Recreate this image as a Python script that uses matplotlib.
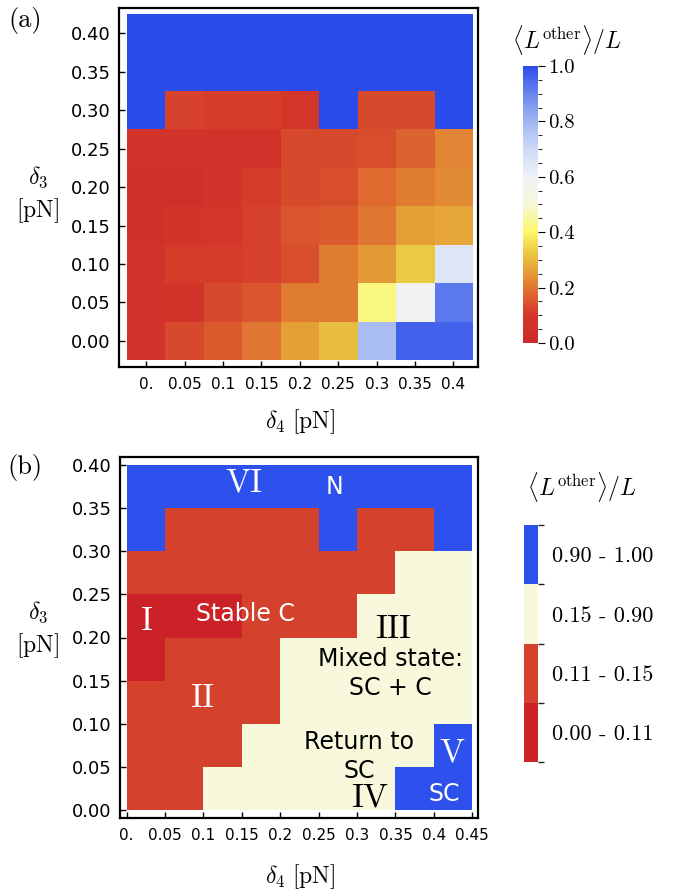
import matplotlib
matplotlib.use("Agg")
import matplotlib.pyplot as plt
import numpy as np
from matplotlib.colors import LinearSegmentedColormap, ListedColormap, BoundaryNorm, Normalize
from matplotlib.colorbar import ColorbarBase

plt.rcParams["mathtext.fontset"] = "cm"
plt.rcParams["font.family"] = ["DejaVu Sans"]

# ---- data -----------------------------------------------------------------
# panel (a): <L_other>/L on a 9x9 grid (rows: delta3 = 0.00 .. 0.40)
delta4_a = [0.0, 0.05, 0.1, 0.15, 0.2, 0.25, 0.3, 0.35, 0.4]
delta3_a = [0.0, 0.05, 0.1, 0.15, 0.2, 0.25, 0.3, 0.35, 0.4]
xtick_labels_a = ["0.", "0.05", "0.1", "0.15", "0.2", "0.25", "0.3", "0.35", "0.4"]
lother_a = [
    [0.08, 0.13, 0.16, 0.20, 0.26, 0.31, 0.78, 0.96, 0.96],   # 0.00
    [0.08, 0.09, 0.13, 0.15, 0.21, 0.21, 0.42, 0.58, 0.92],   # 0.05
    [0.08, 0.11, 0.11, 0.12, 0.14, 0.21, 0.25, 0.33, 0.65],   # 0.10
    [0.06, 0.09, 0.10, 0.12, 0.15, 0.16, 0.20, 0.26, 0.27],   # 0.15
    [0.06, 0.05, 0.08, 0.11, 0.13, 0.14, 0.18, 0.21, 0.23],   # 0.20
    [0.08, 0.08, 0.07, 0.07, 0.13, 0.13, 0.14, 0.17, 0.22],   # 0.25
    [1.00, 0.12, 0.11, 0.11, 0.10, 1.00, 0.13, 0.13, 1.00],   # 0.30
    [1.00, 1.00, 1.00, 1.00, 1.00, 1.00, 1.00, 1.00, 1.00],   # 0.35
    [1.00, 1.00, 1.00, 1.00, 1.00, 1.00, 1.00, 1.00, 1.00],   # 0.40
]

# panel (b): classified regions, cell edges
delta4_edges_b = [0.0, 0.05, 0.1, 0.15, 0.2, 0.25, 0.3, 0.35, 0.4, 0.45]
delta3_edges_b = [0.0, 0.05, 0.1, 0.15, 0.2, 0.25, 0.3, 0.35, 0.4]
xtick_labels_b = ["0.", "0.05", "0.1", "0.15", "0.2", "0.25", "0.3", "0.35", "0.4", "0.45"]
ytick_vals = [0.0, 0.05, 0.1, 0.15, 0.2, 0.25, 0.3, 0.35, 0.4]
ytick_labels = ["0.00", "0.05", "0.10", "0.15", "0.20", "0.25", "0.30", "0.35", "0.40"]
# 0: 0.00-0.11, 1: 0.11-0.15, 2: 0.15-0.90, 3: 0.90-1.00
regions_b = [
    [1, 1, 2, 2, 2, 2, 2, 3, 3],   # 0.00-0.05
    [1, 1, 1, 2, 2, 2, 2, 2, 3],   # 0.05-0.10
    [1, 1, 1, 1, 2, 2, 2, 2, 2],   # 0.10-0.15
    [0, 1, 1, 1, 2, 2, 2, 2, 2],   # 0.15-0.20
    [0, 0, 0, 1, 1, 1, 2, 2, 2],   # 0.20-0.25
    [1, 1, 1, 1, 1, 1, 1, 2, 2],   # 0.25-0.30
    [3, 1, 1, 1, 1, 3, 1, 1, 3],   # 0.30-0.35
    [3, 3, 3, 3, 3, 3, 3, 3, 3],   # 0.35-0.40
]
region_labels = ["0.00 - 0.11", "0.11 - 0.15", "0.15 - 0.90", "0.90 - 1.00"]
region_colors = ["#cd2128", "#d4422e", "#f8f9dc", "#2e50ec"]

# ---- styling --------------------------------------------------------------
cmap_a = LinearSegmentedColormap.from_list("temp", [
    (0.00, "#cf2a2a"), (0.10, "#d4362a"), (0.18, "#de6a30"),
    (0.26, "#e5a038"), (0.33, "#eccb44"), (0.40, "#fbf76a"),
    (0.50, "#f7f7d8"), (0.60, "#eef2f8"), (0.70, "#cfdaf6"),
    (0.80, "#a2b6f2"), (0.90, "#6a86ee"), (1.00, "#2b4cea")])
W, H = 675, 892
serif = "cmr10"


def px_axes(fig, l, t, r, b):
    return fig.add_axes([l / W, 1 - b / H, (r - l) / W, (b - t) / H])


def style_frame(ax):
    for s in ax.spines.values():
        s.set_linewidth(1.6)
    ax.tick_params(direction="in", length=4, width=1.0, top=False, right=False)
    ax.tick_params(axis="x", labelsize=11, pad=7)
    ax.tick_params(axis="y", labelsize=13, pad=6)


fig = plt.figure(figsize=(W / 100, H / 100), dpi=100)

# ---- panel (a) ------------------------------------------------------------
ax = px_axes(fig, 119, 8, 478, 367)
ax.imshow(np.array(lother_a), origin="lower", cmap=cmap_a, vmin=0, vmax=1,
          extent=(delta4_a[0] - 0.025, delta4_a[-1] + 0.025,
                  delta3_a[0] - 0.025, delta3_a[-1] + 0.025),
          aspect="auto", interpolation="nearest")
ax.set_xlim(-0.0355, 0.432)
ax.set_ylim(-0.034, 0.433)
ax.set_xticks(delta4_a, xtick_labels_a)
ax.set_yticks(ytick_vals, ytick_labels)
style_frame(ax)

cax = px_axes(fig, 523, 66, 538, 343)
cb = ColorbarBase(cax, cmap=cmap_a, norm=Normalize(0, 1))
cb.outline.set_visible(False)
cb.set_ticks([0, 0.2, 0.4, 0.6, 0.8, 1.0])
cb.set_ticklabels(["0.0", "0.2", "0.4", "0.6", "0.8", "1.0"])
cax.yaxis.set_minor_locator(matplotlib.ticker.MultipleLocator(0.05))
cax.tick_params(which="major", length=5, width=0.8, labelsize=15, pad=2)
cax.tick_params(which="minor", length=3, width=0.6)
for t in cax.get_yticklabels():
    t.set_fontfamily(serif)

fig.text(567 / W, 1 - 40 / H, r"$\langle L^{\rm other}\rangle/L$", fontsize=17,
         ha="center", va="center")
fig.text(300 / W, 1 - 422 / H, r"$\delta_4\ [\mathrm{pN}]$", fontsize=17,
         ha="center", va="center")
fig.text(38 / W, 1 - 195 / H, r"$\delta_3$" + "\n" + r"$[\mathrm{pN}]$", fontsize=17,
         ha="center", va="center", linespacing=1.3)
fig.text(25 / W, 1 - 20 / H, "(a)", fontsize=19, family=serif, ha="center", va="center")

# ---- panel (b) ------------------------------------------------------------
ax2 = px_axes(fig, 120, 457, 478, 818)
cmap_b = ListedColormap(region_colors)
norm_b = BoundaryNorm([-0.5, 0.5, 1.5, 2.5, 3.5], cmap_b.N)
ax2.pcolormesh(delta4_edges_b, delta3_edges_b, np.array(regions_b),
               cmap=cmap_b, norm=norm_b)
ax2.set_xlim(-0.0087, 0.4575)
ax2.set_ylim(-0.0093, 0.4093)
ax2.set_xticks(delta4_edges_b, xtick_labels_b)
ax2.set_yticks(ytick_vals, ytick_labels)
style_frame(ax2)

txt = dict(ha="center", va="center")
ax2.text(0.152, 0.379, "VI", fontsize=24, family=serif, color="white", **txt)
ax2.text(0.270, 0.375, "N", fontsize=17, color="white", **txt)
ax2.text(0.025, 0.219, "I", fontsize=24, family=serif, color="white", **txt)
ax2.text(0.155, 0.227, "Stable C", fontsize=17, color="white", **txt)
ax2.text(0.098, 0.129, "II", fontsize=24, family=serif, color="white", **txt)
ax2.text(0.347, 0.209, "III", fontsize=24, family=serif, color="black", **txt)
ax2.text(0.343, 0.158, "Mixed state:\nSC + C", fontsize=17, color="black",
         linespacing=1.25, **txt)
ax2.text(0.303, 0.062, "Return to\nSC", fontsize=17, color="black",
         linespacing=1.25, **txt)
ax2.text(0.316, 0.0135, "IV", fontsize=24, family=serif, color="black", **txt)
ax2.text(0.423, 0.066, "V", fontsize=24, family=serif, color="white", **txt)
ax2.text(0.414, 0.019, "SC", fontsize=17, color="white", **txt)

cax2 = px_axes(fig, 524, 525, 538, 762)
cb2 = ColorbarBase(cax2, cmap=cmap_b, norm=norm_b, boundaries=[-0.5, 0.5, 1.5, 2.5, 3.5])
cb2.outline.set_visible(False)
cb2.set_ticks([0, 1, 2, 3])
cb2.set_ticklabels(region_labels)
cax2.yaxis.set_minor_locator(matplotlib.ticker.FixedLocator([-0.5, 0.5, 1.5, 2.5, 3.5]))
cax2.tick_params(which="major", length=0, labelsize=16, pad=10)
cax2.tick_params(which="minor", length=4, width=1.0, color="#222222")
for t in cax2.get_yticklabels():
    t.set_fontfamily(serif)

fig.text(582 / W, 1 - 487 / H, r"$\langle L^{\rm other}\rangle/L$", fontsize=17,
         ha="center", va="center")
fig.text(300 / W, 1 - 877 / H, r"$\delta_4\ [\mathrm{pN}]$", fontsize=17,
         ha="center", va="center")
fig.text(38 / W, 1 - 630 / H, r"$\delta_3$" + "\n" + r"$[\mathrm{pN}]$", fontsize=17,
         ha="center", va="center", linespacing=1.3)
fig.text(25 / W, 1 - 468 / H, "(b)", fontsize=19, family=serif, ha="center", va="center")

fig.savefig("out.png", dpi=100)
